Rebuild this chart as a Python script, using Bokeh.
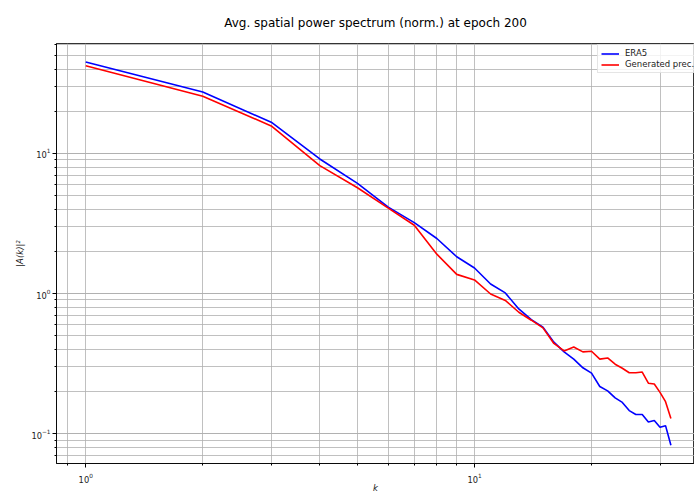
from bokeh.plotting import figure
from bokeh.models import Range1d, Legend, LegendItem, ColumnDataSource, FixedTicker
from bokeh.embed import file_html
from bokeh.resources import INLINE

# wavenumbers
k = list(range(1, 33))
# ERA5 spectrum
era5 = [44.9, 27.4, 16.7, 9.13, 6.12, 4.14, 3.21, 2.47, 1.83, 1.52,
        1.17, 1.01, 0.776, 0.652, 0.575, 0.450, 0.383, 0.340, 0.295, 0.270,
        0.217, 0.202, 0.180, 0.167, 0.146, 0.137, 0.137, 0.121, 0.124, 0.111,
        0.114, 0.0825]
# generated precipitation spectrum
gen = [42.3, 25.6, 15.7, 8.18, 5.69, 4.07, 3.07, 1.91, 1.37, 1.25,
       0.992, 0.893, 0.735, 0.645, 0.569, 0.440, 0.389, 0.415, 0.383, 0.387,
       0.340, 0.347, 0.313, 0.293, 0.272, 0.272, 0.275, 0.229, 0.226, 0.197,
       0.169, 0.128]

# x axis ticks
x_major_ticks = [1, 10]
x_minor_ticks = [0.9, 2, 3, 4, 5, 6, 7, 8, 9, 20, 30]

title_text = "Avg. spatial power spectrum (norm.) at epoch 200"
series_names = ["ERA5", "Generated prec."]
x_label = "k"
y_label = "|A(k)|\u00b2"

FONT = "DejaVu Sans"

src = ColumnDataSource(dict(k=k, era5=era5, gen=gen))

W, H = 694, 495
ML, MR, MT, MB = 56, 0, 42, 30

p = figure(width=W, height=H, x_axis_type="log", y_axis_type="log",
           x_range=Range1d(0.841, 36.8), y_range=Range1d(0.0612, 60.9),
           output_backend="svg", toolbar_location=None,
           min_border_left=ML, min_border_right=MR, min_border_top=MT,
           min_border_bottom=MB)

p.title.text = title_text
p.title.text_font = FONT
p.title.text_font_size = "12px"
p.title.text_font_style = "normal"
p.title.text_color = "#000000"
p.title.align = "center"
p.title.offset = 2
p.title.standoff = 27

p.background_fill_color = "white"
p.border_fill_color = "white"
p.outline_line_color = "#000000"
p.outline_line_width = 0.8

p.xaxis.ticker = FixedTicker(ticks=x_major_ticks, minor_ticks=x_minor_ticks)

for ax in (p.xaxis[0], p.yaxis[0]):
    ax.axis_line_color = "#000000"
    ax.axis_line_width = 0.8
    ax.major_tick_out = 4
    ax.major_tick_in = 0
    ax.minor_tick_out = 2
    ax.minor_tick_in = 0
    ax.major_tick_line_color = "#000000"
    ax.minor_tick_line_color = "#000000"
    ax.major_label_text_font = FONT
    ax.major_label_text_font_size = "8.3px"
    ax.major_label_text_color = "#222222"
    ax.axis_label_text_font = FONT
    ax.axis_label_text_font_size = "8.5px"
    ax.axis_label_text_font_style = "italic"
    ax.axis_label_text_color = "#222222"
    ax.major_label_standoff = 2
    ax.axis_label_standoff = 3

p.xaxis.major_label_standoff = 5
p.xaxis.axis_label_standoff = -3
p.xaxis.axis_label = x_label
p.yaxis.axis_label = y_label

for g in (p.xgrid[0], p.ygrid[0]):
    g.grid_line_color = "#b0b0b0"
    g.grid_line_width = 0.8
    g.minor_grid_line_color = "#b0b0b0"
    g.minor_grid_line_width = 0.8

r1 = p.line("k", "era5", source=src, line_color="blue", line_width=1.6)
r2 = p.line("k", "gen", source=src, line_color="red", line_width=1.6)

legend = Legend(items=[LegendItem(label=series_names[0], renderers=[r1]),
                       LegendItem(label=series_names[1], renderers=[r2])],
                location=(541, 390))
legend.label_text_font = FONT
legend.label_text_font_size = "8.5px"
legend.label_text_color = "#222222"
legend.glyph_width = 18
legend.glyph_height = 9
legend.label_height = 9
legend.spacing = 1
legend.padding = 3
legend.margin = 0
legend.label_standoff = 6
legend.border_line_color = "#cccccc"
legend.border_line_width = 0.8
legend.background_fill_alpha = 0.8
p.add_layout(legend, "center")

open("out.html", "w").write(file_html(p, INLINE))
